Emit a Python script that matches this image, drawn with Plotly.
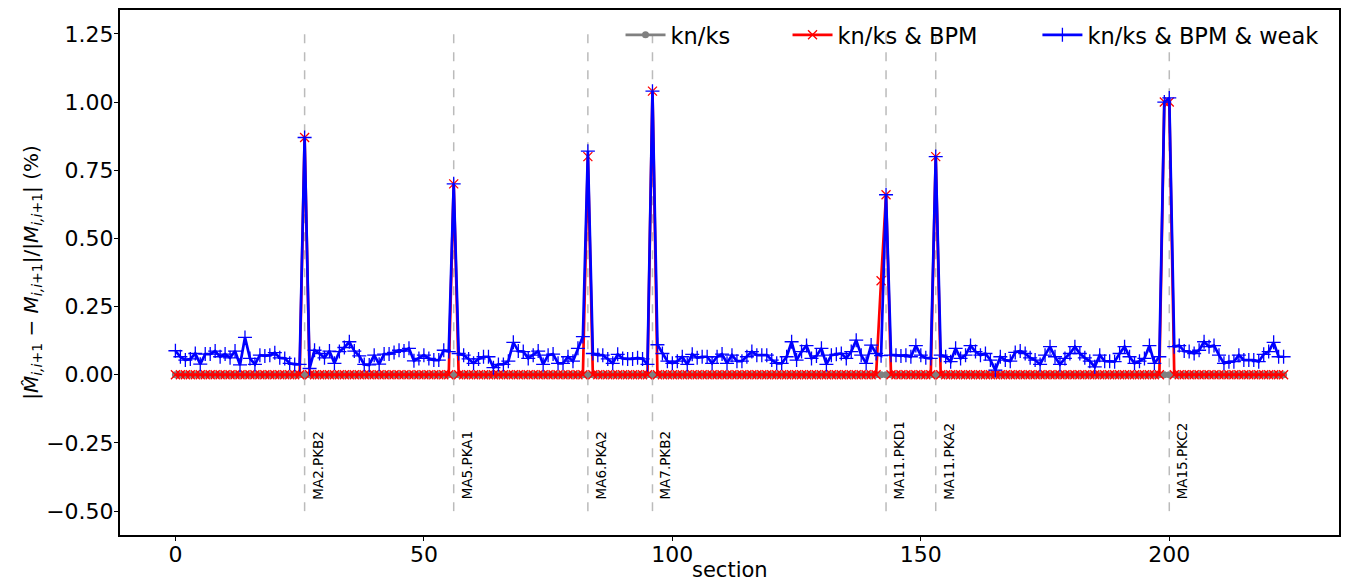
import plotly.graph_objects as go

sections = list(range(224))

# kn/ks only: zero everywhere
knks = [0.0] * 224

# kn/ks & BPM: zero except at these sections
bpm_err_sections = [26, 56, 83, 96, 142, 143, 153, 199, 200]
bpm_err_values = [0.87, 0.70, 0.80, 1.04, 0.345, 0.66, 0.80, 1.00, 1.00]

# kn/ks & BPM & weak
weak = [
    0.088, 0.066, 0.054, 0.058, 0.078, 0.039, 0.076, 0.076, 0.087, 0.066,
    0.076, 0.062, 0.087, 0.036, 0.137, 0.060, 0.038, 0.072, 0.069, 0.072,
    0.081, 0.062, 0.060, 0.042, 0.038, 0.038, 0.870, 0.023, 0.090, 0.078,
    0.062, 0.087, 0.042, 0.085, 0.100, 0.121, 0.087, 0.069, 0.038, 0.036,
    0.072, 0.039, 0.076, 0.076, 0.082, 0.090, 0.087, 0.097, 0.051, 0.060,
    0.072, 0.060, 0.054, 0.054, 0.090, 0.085, 0.700, 0.078, 0.072, 0.058,
    0.042, 0.058, 0.066, 0.066, 0.026, 0.038, 0.038, 0.050, 0.119, 0.087,
    0.085, 0.060, 0.072, 0.087, 0.038, 0.072, 0.076, 0.042, 0.042, 0.066,
    0.050, 0.097, 0.140, 0.820, 0.078, 0.072, 0.072, 0.058, 0.042, 0.075,
    0.060, 0.058, 0.058, 0.062, 0.058, 0.038, 1.040, 0.110, 0.078, 0.050,
    0.042, 0.050, 0.066, 0.038, 0.075, 0.062, 0.066, 0.066, 0.042, 0.066,
    0.076, 0.042, 0.072, 0.050, 0.050, 0.066, 0.085, 0.072, 0.072, 0.072,
    0.054, 0.042, 0.042, 0.066, 0.121, 0.054, 0.085, 0.107, 0.060, 0.069,
    0.097, 0.038, 0.072, 0.075, 0.078, 0.060, 0.085, 0.127, 0.072, 0.042,
    0.109, 0.078, 0.070, 0.660, 0.072, 0.072, 0.069, 0.072, 0.066, 0.107,
    0.072, 0.062, 0.060, 0.800, 0.072, 0.066, 0.048, 0.097, 0.060, 0.072,
    0.107, 0.085, 0.072, 0.078, 0.054, 0.017, 0.066, 0.054, 0.050, 0.082,
    0.087, 0.078, 0.062, 0.054, 0.038, 0.072, 0.103, 0.066, 0.038, 0.060,
    0.078, 0.103, 0.078, 0.062, 0.050, 0.029, 0.072, 0.050, 0.050, 0.048,
    0.078, 0.103, 0.066, 0.042, 0.050, 0.060, 0.107, 0.042, 0.066, 1.000,
    1.015, 0.103, 0.107, 0.087, 0.085, 0.078, 0.090, 0.121, 0.103, 0.107,
    0.072, 0.042, 0.048, 0.048, 0.072, 0.054, 0.054, 0.054, 0.048, 0.075,
    0.085, 0.119, 0.066, 0.066,
]

# BPM marker lines
bpm_sections = [26, 56, 83, 96, 143, 153, 200]
bpm_labels = ["MA2.PKB2", "MA5.PKA1", "MA6.PKA2", "MA7.PKB2",
              "MA11.PKD1", "MA11.PKA2", "MA15.PKC2"]

y_ticks = [-0.5, -0.25, 0.0, 0.25, 0.5, 0.75, 1.0, 1.25]
x_ticks = [0, 50, 100, 150, 200]

bpm = [0.0] * len(sections)
for s, v in zip(bpm_err_sections, bpm_err_values):
    bpm[s] = v

FONT = "DejaVu Sans"

fig = go.Figure()
fig.add_trace(go.Scatter(
    x=sections, y=knks, mode="lines+markers", name="kn/ks", legend="legend",
    line=dict(color="gray", width=2.7),
    marker=dict(symbol="circle", size=7, color="gray"),
))
fig.add_trace(go.Scatter(
    x=sections, y=bpm, mode="lines+markers", name="kn/ks & BPM", legend="legend2",
    line=dict(color="red", width=2.7),
    marker=dict(symbol="x-thin", size=9, color="red",
                line=dict(color="red", width=1.3)),
))
fig.add_trace(go.Scatter(
    x=sections, y=weak, mode="lines+markers", name="kn/ks & BPM & weak", legend="legend3",
    line=dict(color="blue", width=2.7),
    marker=dict(symbol="cross-thin", size=10, color="blue",
                line=dict(color="blue", width=1.3)),
))

for s, lab in zip(bpm_sections, bpm_labels):
    fig.add_shape(type="line", x0=s, x1=s, y0=-0.5, y1=1.25,
                  xref="x", yref="y",
                  line=dict(color="#bbbbbb", width=1.5, dash="dash"),
                  layer="below")
    fig.add_annotation(x=s + 0.6, y=-0.465, text=lab, textangle=-90,
                       showarrow=False, xanchor="left", yanchor="bottom",
                       font=dict(family=FONT, size=13.5, color="black"))

# x-axis title placed as annotation to sit just below the tick labels
fig.add_annotation(x=0.5004, y=-0.0667, xref="paper", yref="paper",
                   text="section", showarrow=False,
                   xanchor="center", yanchor="middle",
                   font=dict(family=FONT, size=21, color="black"))

def leg(xpos):
    return dict(orientation="h", x=xpos, xanchor="left", y=0.952,
                yanchor="middle", bgcolor="rgba(0,0,0,0)",
                font=dict(family=FONT, size=22.5), itemwidth=40)

fig.update_layout(
    width=1346, height=581,
    margin=dict(l=120, r=7, t=10, b=46, autoexpand=False),
    plot_bgcolor="white", paper_bgcolor="white",
    font=dict(family=FONT, color="black"),
    showlegend=True,
    legend=leg(0.4106), legend2=leg(0.5476), legend3=leg(0.7526),
    xaxis=dict(range=[-11.15, 234.15], tickvals=x_ticks, automargin=False,
               showgrid=False, zeroline=False,
               showline=True, linecolor="black", linewidth=2, mirror=True,
               ticks="outside", ticklen=4, tickwidth=1.2, tickcolor="black",
               ticklabelstandoff=-5,
               tickfont=dict(family=FONT, size=22)),
    yaxis=dict(range=[-0.5875, 1.3375], tickvals=y_ticks, tickformat=".2f",
               automargin=False,
               showgrid=False, zeroline=False,
               showline=True, linecolor="black", linewidth=2, mirror=True,
               ticks="outside", ticklen=4, tickwidth=1.2, tickcolor="black",
               ticklabelstandoff=-4,
               tickfont=dict(family=FONT, size=22),
               title=dict(text="|<i>M̂</i><sub><i>i,i</i>+1</sub> − <i>M</i><sub><i>i,i</i>+1</sub>|/|<i>M</i><sub><i>i,i</i>+1</sub>| (%)",
                          font=dict(family=FONT, size=20), standoff=2)),
)

fig.write_html("out.html", config={"displayModeBar": False},
               post_script="document.body.style.margin='0px';")
